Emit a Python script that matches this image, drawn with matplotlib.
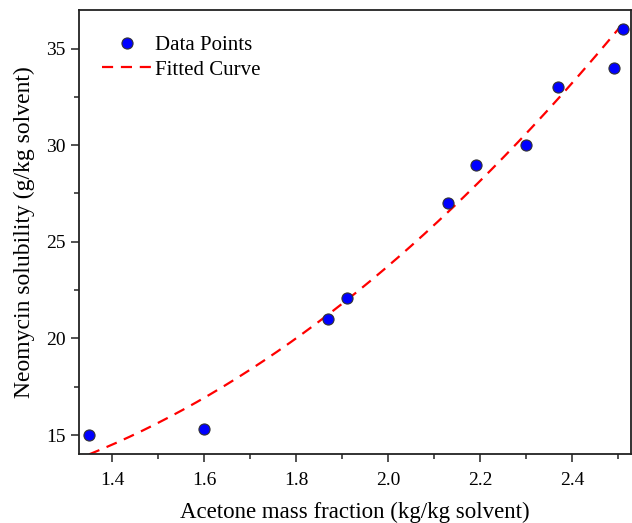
import numpy as np
import matplotlib
matplotlib.use("Agg")
import matplotlib.pyplot as plt
from matplotlib.ticker import MultipleLocator

# Data
acetone = [1.35, 1.60, 1.87, 1.91, 2.13, 2.19, 2.30, 2.37, 2.49, 2.51]
solubility = [15.0, 15.3, 21.0, 22.1, 27.0, 29.0, 30.0, 33.0, 34.0, 36.0]
# Quadratic fit coefficients (a*x^2 + b*x + c)
fit_coeffs = [8.26, -12.67, 16.05]

plt.rcParams['font.family'] = ['Liberation Serif', 'DejaVu Serif']

fig = plt.figure(figsize=(6.32, 5.23), dpi=100)
ax = fig.add_axes([0.125, 0.132, 0.8735, 0.849])

xf = np.linspace(min(acetone), max(acetone), 200)
yf = np.polyval(fit_coeffs, xf)

ax.plot(acetone, solubility, 'o', color='#0000ff', markersize=8,
        markeredgecolor='#333333', markeredgewidth=0.8, label='Data Points', zorder=3)
ax.plot(xf, yf, color='#ff0000', linestyle=(0, (5, 3.5)), linewidth=1.6,
        label='Fitted Curve', zorder=2)

ax.set_xlim(1.328, 2.528)
ax.set_ylim(14.02, 37.0)
ax.xaxis.set_major_locator(MultipleLocator(0.2))
ax.xaxis.set_minor_locator(MultipleLocator(0.1))
ax.yaxis.set_major_locator(MultipleLocator(5))
ax.yaxis.set_minor_locator(MultipleLocator(2.5))
ax.xaxis.set_major_formatter(matplotlib.ticker.FormatStrFormatter('%.1f'))

ax.tick_params(axis='both', which='major', direction='out', length=6, width=1.1,
               labelsize=14, color='#222222')
ax.tick_params(axis='both', which='minor', direction='out', length=3.5, width=1.1,
               color='#222222')
ax.tick_params(axis='x', which='major', pad=7)
for s in ax.spines.values():
    s.set_linewidth(1.3)
    s.set_color('#222222')

ax.set_xlabel('Acetone mass fraction (kg/kg solvent)', fontsize=16.5, labelpad=9)
ax.set_ylabel('Neomycin solubility (g/kg solvent)', fontsize=17, labelpad=8)

leg = ax.legend(loc='upper left', frameon=False, fontsize=15,
                bbox_to_anchor=(0.008, 0.985), handlelength=2.4, handletextpad=0.15,
                labelspacing=0.25)

fig.savefig('out.png', dpi=100)
